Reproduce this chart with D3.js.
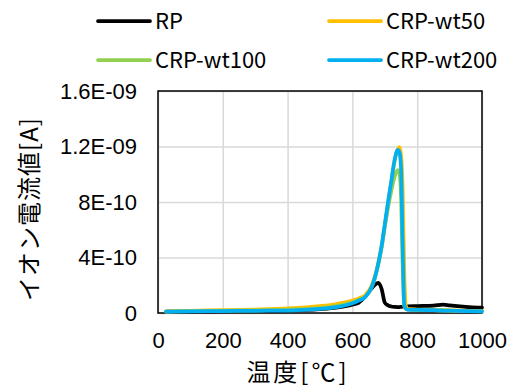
<!DOCTYPE html>
<html>
<head>
<meta charset="utf-8">
<script src="https://cdn.jsdelivr.net/npm/d3@7"></script>
<style>
  html, body { margin: 0; padding: 0; background: #fff; }
  svg { display: block; font-family: "Noto Sans CJK JP", "Noto Sans", sans-serif; }
</style>
</head>
<body>
<svg id="chart" width="510" height="388"></svg>
<script>
// temperature [°C]
const temps = [25, 100, 200, 300, 400, 500, 550, 600, 620, 640, 660, 670, 680, 690, 700, 710, 720, 730, 740, 745, 750, 755, 760, 765, 770, 800, 850, 880, 900, 950, 1000];

// ion current [A], in units of 1e-10
const rp = [0.10, 0.12, 0.13, 0.15, 0.18, 0.28, 0.38, 0.6, 0.75, 1.2, 1.8, 2.05, 2.18, 1.75, 0.75, 0.55, 0.47, 0.44, 0.43, 0.43, 0.44, 0.45, 0.46, 0.47, 0.48, 0.5, 0.53, 0.6, 0.55, 0.45, 0.38];
const wt50 = [0.12, 0.16, 0.2, 0.25, 0.33, 0.5, 0.65, 0.9, 1.05, 1.3, 2.0, 2.7, 3.6, 4.8, 6.3, 7.9, 9.4, 10.9, 11.8, 11.95, 11.4, 9.0, 3.0, 0.5, 0.3, 0.25, 0.22, 0.2, 0.19, 0.16, 0.13];
const wt100 = [0.1, 0.13, 0.16, 0.19, 0.24, 0.36, 0.5, 0.75, 0.95, 1.2, 1.9, 2.6, 3.5, 4.7, 6.2, 7.6, 8.8, 9.8, 10.3, 10.1, 8.5, 3.5, 0.5, 0.3, 0.25, 0.22, 0.2, 0.19, 0.18, 0.15, 0.12];
const wt200 = [0.1, 0.12, 0.14, 0.16, 0.18, 0.3, 0.42, 0.7, 0.9, 1.15, 1.9, 2.6, 3.6, 4.8, 6.4, 8.0, 9.5, 11.0, 11.75, 11.6, 10.5, 5.0, 0.6, 0.3, 0.25, 0.22, 0.2, 0.18, 0.17, 0.14, 0.12];

const seriesNames = ['RP', 'CRP-wt50', 'CRP-wt100', 'CRP-wt200'];
const seriesValues = [rp, wt50, wt100, wt200];
const seriesColors = ['#000000', '#FFC000', '#92D050', '#00B0F0'];

const xTicks = [0, 200, 400, 600, 800, 1000];
const yTicks = [0, 4e-10, 8e-10, 1.2e-9, 1.6e-9];
const yTickLabels = ['0', '4E-10', '8E-10', '1.2E-09', '1.6E-09'];

const xTitle = '温度[℃]';
const yTitle = 'イオン電流値[A]';

const svg = d3.select('#chart');
const plot = { left: 158, right: 482, top: 91, bottom: 313 };

const x = d3.scaleLinear().domain([0, 1000]).range([plot.left, plot.right]);
const y = d3.scaleLinear().domain([0, 1.6e-9]).range([plot.bottom, plot.top]);

// gridlines
svg.append('g')
  .attr('transform', `translate(0, ${plot.bottom})`)
  .call(d3.axisBottom(x).tickValues(xTicks).tickSize(-(plot.bottom - plot.top)).tickFormat(''))
  .call((g) => g.select('.domain').remove())
  .call((g) => g.selectAll('line').attr('stroke', '#d9d9d9').attr('stroke-width', 1.5));

svg.append('g')
  .attr('transform', `translate(${plot.left}, 0)`)
  .call(d3.axisLeft(y).tickValues(yTicks).tickSize(-(plot.right - plot.left)).tickFormat(''))
  .call((g) => g.select('.domain').remove())
  .call((g) => g.selectAll('line').attr('stroke', '#d9d9d9').attr('stroke-width', 1.5));

// frame
svg.append('rect')
  .attr('x', plot.left)
  .attr('y', plot.top)
  .attr('width', plot.right - plot.left)
  .attr('height', plot.bottom - plot.top)
  .attr('fill', 'none')
  .attr('stroke', '#000')
  .attr('stroke-width', 1.5);

// tick labels
svg.append('g')
  .attr('transform', `translate(0, ${plot.bottom})`)
  .call(d3.axisBottom(x).tickValues(xTicks).tickSize(0).tickPadding(19).tickFormat(d3.format('d')))
  .call((g) => g.select('.domain').remove())
  .call((g) => g.selectAll('text').attr('font-size', 22).attr('fill', '#000').attr('font-family', null));

svg.append('g')
  .attr('transform', `translate(${plot.left}, 0)`)
  .call(d3.axisLeft(y).tickValues(yTicks).tickSize(0).tickPadding(21)
    .tickFormat((d, i) => yTickLabels[i]))
  .call((g) => g.select('.domain').remove())
  .call((g) => g.selectAll('text').attr('font-size', 22).attr('fill', '#000').attr('font-family', null));

// axis titles
svg.append('text')
  .attr('x', 298)
  .attr('y', 381)
  .attr('text-anchor', 'middle')
  .attr('font-size', 24)
  .attr('letter-spacing', 3)
  .text(xTitle);

svg.append('text')
  .attr('transform', 'translate(38, 209) rotate(-90)')
  .attr('text-anchor', 'middle')
  .attr('font-size', 24)
  .attr('letter-spacing', 1)
  .text(yTitle);

// series
const line = d3.line()
  .x((d, i) => x(temps[i]))
  .y((d) => y(d * 1e-10))
  .curve(d3.curveMonotoneX);

svg.append('g')
  .selectAll('path')
  .data(seriesValues)
  .join('path')
  .attr('fill', 'none')
  .attr('stroke', (d, i) => seriesColors[i])
  .attr('stroke-width', 3.75)
  .attr('stroke-linejoin', 'round')
  .attr('stroke-linecap', 'round')
  .attr('d', line);

// legend
const legendPos = [[98, 21], [329, 21], [98, 60], [329, 60]];
const legend = svg.append('g')
  .selectAll('g')
  .data(seriesNames)
  .join('g')
  .attr('transform', (d, i) => `translate(${legendPos[i][0]}, ${legendPos[i][1]})`);

legend.append('line')
  .attr('x1', 0)
  .attr('x2', 52)
  .attr('stroke', (d, i) => seriesColors[i])
  .attr('stroke-width', 3.75)
  .attr('stroke-linecap', 'round');

legend.append('text')
  .attr('x', 57)
  .attr('y', 8)
  .attr('font-size', 22)
  .text((d) => d);
</script>
</body>
</html>
